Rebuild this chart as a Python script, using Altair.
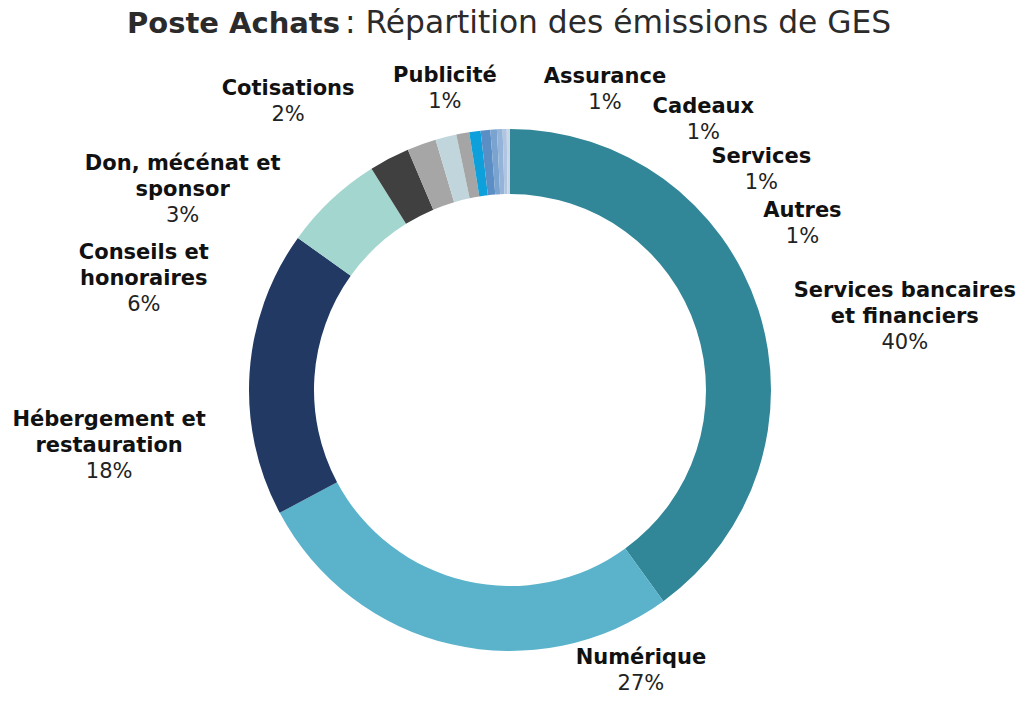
import altair as alt
import pandas as pd

# ---- data ----
categories = ["Services bancaires\net financiers", "Numérique", "Hébergement et\nrestauration",
              "Conseils et\nhonoraires", "Don, mécénat et\nsponsor", "Cotisations", "Publicité",
              "Assurance", "Cadeaux", "Services", "Autres", "x1", "x2", "x3"]
values = [40.0, 27.2, 17.7, 6.2, 2.5, 1.8, 1.3, 0.8, 0.7, 0.6, 0.4, 0.35, 0.25, 0.2]
pct_labels = ["40%", "27%", "18%", "6%", "3%", "2%", "1%", "1%", "1%", "1%", "1%", "", "", ""]
colors = ["#318698", "#5AB3CB", "#213963", "#A2D6CE", "#404040", "#A6A6A6", "#C1D6DC",
          "#A5A5A5", "#0EA0DA", "#5A8EC5", "#7AA3D0", "#93B4D8", "#B0C5E0", "#CAD6E8"]

# ---- label layout (angular shift in % of circle from slice middle, radius in px) ----
label_shift = [1.10, -10.84, -2.24, -7.30, -7.72, -4.61, 0.70, 7.59, 11.68, 14.59, 17.25, 0, 0, 0]
label_radius = [407, 298, 402, 391, 398, 374, 321, 327, 343, 343, 343, 0, 0, 0]

df = pd.DataFrame({"cat": categories, "value": values, "pct": pct_labels,
                   "idx": list(range(len(values)))})
cum = df["value"].cumsum()
df["mid"] = cum - df["value"] / 2
df["label_theta"] = (df["mid"] + pd.Series(label_shift)) % 100
df["label_r"] = label_radius
df["name"] = [c if p else "" for c, p in zip(categories, pct_labels)]
df["nlines"] = [c.count("\n") + 1 for c in categories]

FONT = "DejaVu Sans"
LH = 26
theta_scale = alt.Scale(domain=[0, 100])

base = alt.Chart(df)

arcs = base.mark_arc(innerRadius=196, outerRadius=261).encode(
    theta=alt.Theta("value:Q", stack=True, scale=theta_scale),
    color=alt.Color("cat:N", scale=alt.Scale(domain=categories, range=colors), legend=None),
    order=alt.Order("idx:Q"),
)

lab = base.transform_filter("datum.pct != ''")
pos = dict(
    theta=alt.Theta("label_theta:Q", stack=False, scale=theta_scale),
    radius=alt.Radius("label_r:Q", scale=None),
)

names = lab.mark_text(font=FONT, fontSize=21, fontWeight="bold", color="#111111",
                      baseline="middle", align="center", lineBreak="\n", lineHeight=LH).encode(
    text="name:N", **pos)

pct_layers = []
for n in (1, 2):
    pct_layers.append(
        lab.transform_filter(f"datum.nlines == {n}").mark_text(
            font=FONT, fontSize=21, fontWeight="normal", color="#222222",
            baseline="middle", align="center", dy=LH * n).encode(text="pct:N", **pos)
    )

title_df = pd.DataFrame({"a": ["Poste Achats"], "b": [": Répartition des émissions de GES"]})
t1 = alt.Chart(title_df).mark_text(font=FONT, fontSize=29, fontWeight="bold", color="#2b2b2b",
                                   align="right", baseline="alphabetic").encode(
    text="a:N", x=alt.value(332), y=alt.value(-125))
t2 = alt.Chart(title_df).mark_text(font=FONT, fontSize=31.3, fontWeight="normal", color="#2b2b2b",
                                   align="left", baseline="alphabetic").encode(
    text="b:N", x=alt.value(337), y=alt.value(-125))

chart = alt.layer(arcs, names, *pct_layers, t1, t2).resolve_scale(theta="shared").properties(
    width=1004, height=464,
    padding={"left": 0, "top": 150, "right": 5, "bottom": 70},
    autosize=alt.AutoSizeParams(type="none"),
).configure_view(stroke=None)

chart.save("out.html", embed_options={"renderer": "svg", "actions": False})
